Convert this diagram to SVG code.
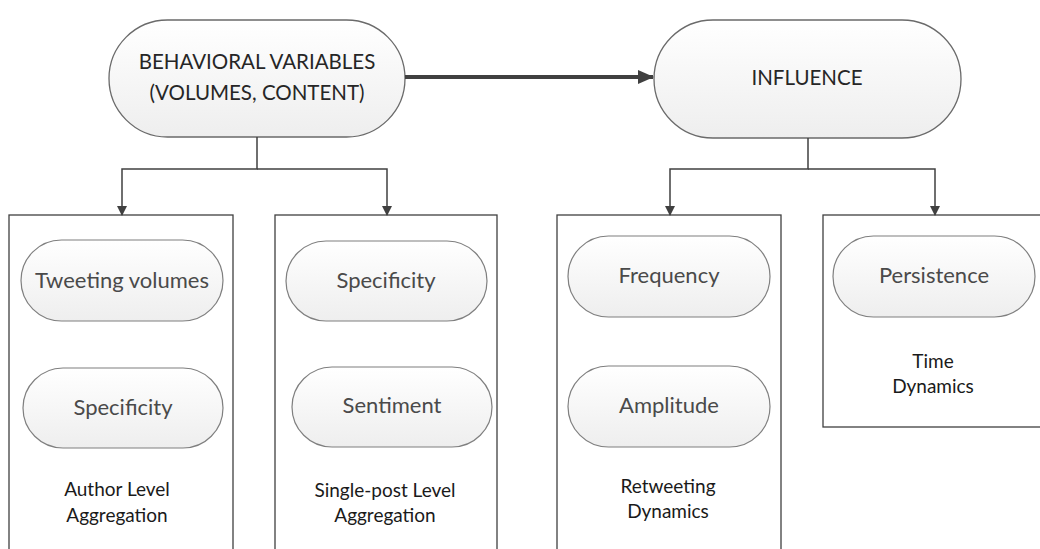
<svg xmlns="http://www.w3.org/2000/svg" width="1040" height="549" viewBox="0 0 1040 549">
  <defs>
    <linearGradient id="pillFill" x1="0" y1="0" x2="0" y2="1">
      <stop offset="0" stop-color="#ffffff"/>
      <stop offset="1" stop-color="#eeeeee"/>
    </linearGradient>
    <marker id="arrowSmall" markerWidth="10" markerHeight="10" refX="9" refY="5" orient="auto" markerUnits="userSpaceOnUse">
      <path d="M0,0 L10,5 L0,10 Z" fill="#404040"/>
    </marker>
    <marker id="arrowBig" markerWidth="16" markerHeight="16" refX="15" refY="8" orient="auto" markerUnits="userSpaceOnUse">
      <path d="M0,1 L16,8 L0,15 Z" fill="#404040"/>
    </marker>
  </defs>
  <style>
    .bg { fill: #ffffff; }
    .pill { fill: url(#pillFill); stroke: #7f7f7f; stroke-width: 1.2; }
    .big { fill: url(#pillFill); stroke: #6a6a6a; stroke-width: 1.3; }
    .group { fill: #ffffff; stroke: #404040; stroke-width: 1.3; }
    .wire { fill: none; stroke: #404040; stroke-width: 1.5; }
    .thick { fill: none; stroke: #404040; stroke-width: 4; }
    text { font-family: Lato, "Open Sans", "Liberation Sans", sans-serif; text-anchor: middle; }
    .t-big { font-size: 20.5px; fill: #262626; }
    .t-pill { font-size: 22px; fill: #4a4a4a; }
    .t-lab { font-size: 19px; fill: #1a1a1a; }
  </style>

  <rect class="bg" x="0" y="0" width="1040" height="549"/>

  <!-- group frames -->
  <g id="author-level">
    <rect class="group" x="9" y="215" width="224" height="345"/>
    <text class="t-lab" x="117" y="496">Author Level</text>
    <text class="t-lab" x="117" y="522">Aggregation</text>
  </g>
  <g id="single-post-level">
    <rect class="group" x="275" y="215" width="222" height="345"/>
    <text class="t-lab" x="385" y="497">Single-post Level</text>
    <text class="t-lab" x="385" y="522">Aggregation</text>
  </g>
  <g id="retweeting-dynamics">
    <rect class="group" x="557" y="215" width="224" height="345"/>
    <text class="t-lab" x="668" y="493">Retweeting</text>
    <text class="t-lab" x="668" y="518">Dynamics</text>
  </g>
  <g id="time-dynamics">
    <rect class="group" x="823" y="215" width="230" height="212"/>
    <text class="t-lab" x="933" y="368">Time</text>
    <text class="t-lab" x="933" y="393">Dynamics</text>
  </g>

  <!-- top-level nodes -->
  <g id="behavioral-variables">
    <rect class="big" x="109" y="20" width="296" height="117" rx="58.5"/>
    <text class="t-big" x="257" y="69">BEHAVIORAL VARIABLES</text>
    <text class="t-big" x="257" y="100">(VOLUMES, CONTENT)</text>
  </g>
  <g id="influence">
    <rect class="big" x="654" y="20" width="307" height="118" rx="59"/>
    <text class="t-big" x="807" y="85">INFLUENCE</text>
  </g>

  <!-- variables -->
  <g id="tweeting-volumes">
    <rect class="pill" x="21" y="240" width="202" height="81" rx="40.5"/>
    <text class="t-pill" x="122" y="288">Tweeting volumes</text>
  </g>
  <g id="author-specificity">
    <rect class="pill" x="23" y="368" width="200" height="80" rx="40"/>
    <text class="t-pill" x="123" y="415">Specificity</text>
  </g>
  <g id="post-specificity">
    <rect class="pill" x="286" y="241" width="201" height="80" rx="40"/>
    <text class="t-pill" x="386" y="288">Specificity</text>
  </g>
  <g id="sentiment">
    <rect class="pill" x="292" y="367" width="200" height="80" rx="40"/>
    <text class="t-pill" x="392" y="413">Sentiment</text>
  </g>
  <g id="frequency">
    <rect class="pill" x="568" y="236" width="202" height="81" rx="40.5"/>
    <text class="t-pill" x="669" y="283">Frequency</text>
  </g>
  <g id="amplitude">
    <rect class="pill" x="568" y="366" width="202" height="81" rx="40.5"/>
    <text class="t-pill" x="669" y="413">Amplitude</text>
  </g>
  <g id="persistence">
    <rect class="pill" x="833" y="236" width="202" height="81" rx="40.5"/>
    <text class="t-pill" x="934" y="283">Persistence</text>
  </g>

  <!-- connectors -->
  <g id="connectors">
    <line class="thick" x1="405" y1="77" x2="653" y2="77" marker-end="url(#arrowBig)"/>
    <polyline class="wire" points="257,137 257,169 122,169 122,215" marker-end="url(#arrowSmall)"/>
    <polyline class="wire" points="257,169 387,169 387,215" marker-end="url(#arrowSmall)"/>
    <polyline class="wire" points="808,138 808,169 670,169 670,215" marker-end="url(#arrowSmall)"/>
    <polyline class="wire" points="808,169 935,169 935,215" marker-end="url(#arrowSmall)"/>
  </g>
</svg>
